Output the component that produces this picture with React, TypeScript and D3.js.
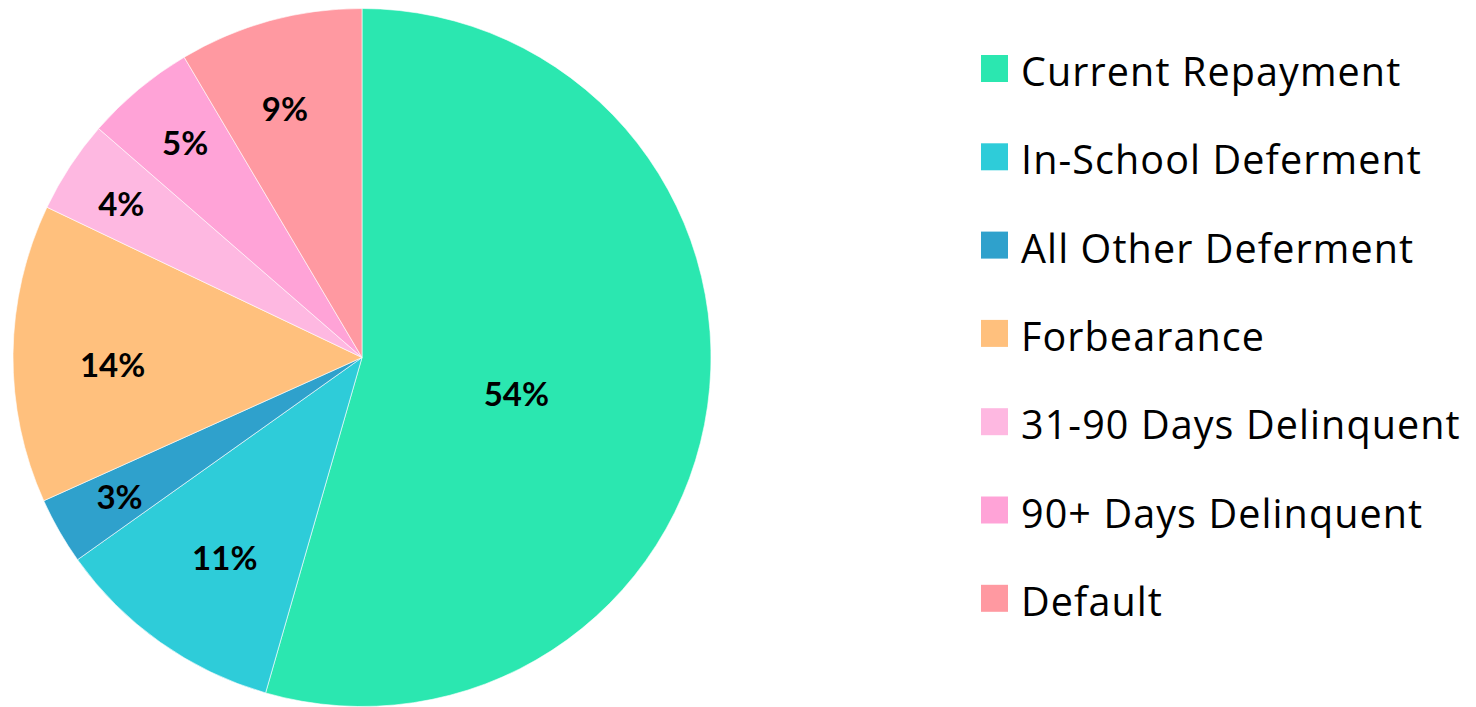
import React from "react";
import * as d3 from "d3";

const categories = [
  "Current Repayment",
  "In-School Deferment",
  "All Other Deferment",
  "Forbearance",
  "31-90 Days Delinquent",
  "90+ Days Delinquent",
  "Default",
];
const values = [54.4, 10.7, 3.1, 13.8, 4.3, 5.1, 8.5];
const valueLabels = ["54%", "11%", "3%", "14%", "4%", "5%", "9%"];
const colors = ["#2BE7B0", "#2ECCD9", "#2FA1CC", "#FFC07D", "#FEB8E1", "#FFA3D7", "#FF99A1"];
// label placement (layout): distance as fraction of radius, angular nudge in degrees
const labelRadiusFrac = [0.454, 0.694, 0.8, 0.715, 0.82, 0.8, 0.747];
const labelAngleNudge = [5.1, -0.8, 0.1, -2.1, -0.5, 0.5, -1.9];

const W = 1476;
const H = 707;
const cx = 362;
const cy = 357.5;
const R = 349;

export default function App() {
  const pie = d3.pie<number>().sort(null).value((d) => d);
  const arcs = pie(values);
  const arcGen = d3.arc<d3.PieArcDatum<number>>().innerRadius(0).outerRadius(R);

  const legendX = 981;
  const legendY0 = 55;
  const legendStep = 88.3;

  return (
    <svg
      width={W}
      height={H}
      style={{ position: "absolute", left: 0, top: 0, display: "block", background: "#fff" }}
    >
      <g transform={`translate(${cx},${cy})`}>
        {arcs.map((a, i) => (
          <path key={i} d={arcGen(a) || ""} fill={colors[i]} stroke="#ffffff" strokeWidth={0.6} />
        ))}
        {arcs.map((a, i) => {
          const mid = (a.startAngle + a.endAngle) / 2 + (labelAngleNudge[i] * Math.PI) / 180;
          const r = R * labelRadiusFrac[i];
          const x = r * Math.sin(mid);
          const y = -r * Math.cos(mid);
          return (
            <text
              key={i}
              x={x}
              y={y}
              textAnchor="middle"
              dominantBaseline="central"
              fontFamily="Lato, 'Open Sans', sans-serif"
              fontWeight="bold"
              fontSize={33}
              fill="#000"
            >
              {valueLabels[i]}
            </text>
          );
        })}
      </g>
      <g>
        {categories.map((c, i) => {
          const y = legendY0 + i * legendStep;
          return (
            <g key={c}>
              <rect x={legendX} y={y} width={27} height={27} fill={colors[i]} />
              <text
                x={1021}
                y={y + 31}
                fontFamily="'Open Sans', sans-serif"
                fontSize={39.5}
                letterSpacing={1.1}
                fill="#000"
              >
                {c}
              </text>
            </g>
          );
        })}
      </g>
    </svg>
  );
}
